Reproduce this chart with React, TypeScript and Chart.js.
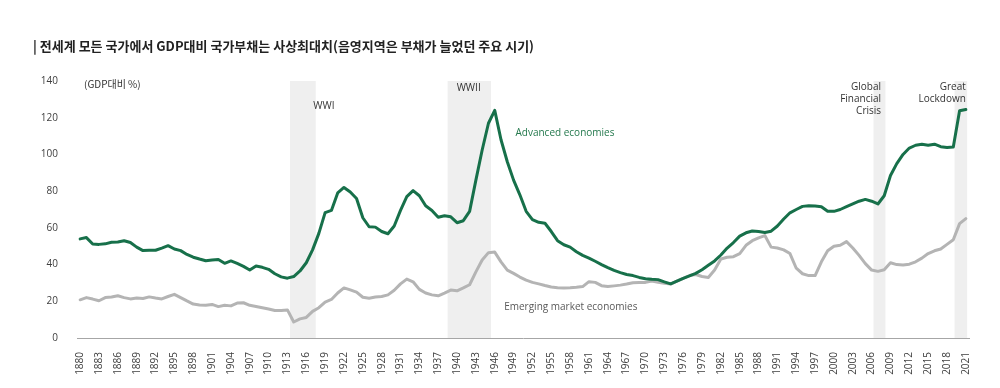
import { useEffect, useRef } from "react";
import { Chart, registerables } from "chart.js";

Chart.register(...registerables);

const START_YEAR = 1880;
const END_YEAR = 2021;
const years: string[] = [];
for (let y = START_YEAR; y <= END_YEAR; y++) years.push(String(y));

// 1880 ... 2021
const advanced = [
  54, 54.7, 51.2, 51, 51.3, 52.2, 52.3, 53, 52, 49.5,
  47.6, 47.8, 47.8, 49, 50.3, 48.5, 47.6, 45.5, 44, 43,
  42.1, 42.5, 42.8, 40.7, 42, 40.6, 39, 37, 39.2, 38.5,
  37.4, 35, 33.3, 32.6, 33.5, 36.5, 41, 48, 57, 68.3,
  69.5, 79, 82, 79.5, 76, 65.5, 60.6, 60.4, 58, 56.8,
  61, 69.5, 77, 80.3, 77.5, 72, 69.5, 65.8, 66.6, 66,
  62.8, 63.9, 69, 86, 102.4, 117, 124, 108, 96, 86,
  78, 69, 64.5, 63, 62.5, 58, 53, 50.8, 49.5, 47,
  45, 43.5, 41.8, 40, 38.3, 36.8, 35.6, 34.6, 34, 33,
  32.3, 32, 31.8, 30.6, 29.5, 31, 32.5, 33.8, 35.2, 37.2,
  39.6, 42, 45.2, 49, 52, 55.5, 57.3, 58.3, 58, 57.5,
  58.2, 61, 64.8, 68.2, 70, 71.7, 72.1, 71.9, 71.5, 69,
  69, 70, 71.5, 73, 74.5, 75.5, 74.5, 73, 77.5, 88.5,
  95, 100, 103.5, 105, 105.5, 105, 105.6, 104.2, 103.8, 104,
  123.8, 124.5,
];

const emerging = [
  20.8, 22, 21.2, 20.3, 22, 22.3, 23, 22, 21.3, 21.8,
  21.5, 22.4, 21.8, 21.3, 22.6, 23.8, 22, 20.2, 18.5, 18,
  17.8, 18.3, 17.1, 17.8, 17.5, 19, 19.2, 17.8, 17.2, 16.5,
  15.8, 15, 15, 15.3, 8.7, 10.4, 11.2, 14.5, 16.5, 19.6,
  21, 24.5, 27.3, 26.2, 25, 22.2, 21.7, 22.3, 22.6, 23.5,
  26, 29.5, 32.1, 30.6, 26.5, 24.5, 23.5, 23, 24.5, 26.1,
  25.7, 27.3, 29, 36, 42.5, 46.5, 46.8, 41.5, 37, 35.2,
  33.2, 31.5, 30.3, 29.5, 28.6, 27.8, 27.4, 27.3, 27.4, 27.6,
  28, 30.7, 30.3, 28.5, 28, 28.4, 28.8, 29.4, 30.1, 30.2,
  30.3, 31, 30.4, 29.8, 29.4, 31, 32.5, 34, 34.6, 33.5,
  33, 37, 43, 44, 44.3, 46, 50.5, 53, 54.5, 55.8,
  49.5, 49, 48, 46, 38, 35, 34, 34, 41.5, 47.5,
  50, 50.5, 52.5, 49, 45, 40.5, 37, 36.3, 37.2, 41,
  40, 39.8, 40.2, 41.5, 43.5, 46, 47.5, 48.5, 51, 53.5,
  62.3, 65,
];

const Y_MIN = 0;
const Y_MAX = 140;
const Y_STEP = 20;

const TITLE = "| 전세계 모든 국가에서 GDP대비 국가부채는 사상최대치(음영지역은 부채가 늘었던 주요 시기)";
const UNIT_LABEL = "(GDP대비 %)";
const SERIES_NAMES = ["Advanced economies", "Emerging market economies"];

// shaded periods, in years (fractional)
const bandStarts = [1913.4, 1938.5, 2006.3, 2019.2];
const bandEnds = [1917.5, 1945.4, 2008.2, 2021.2];
const bandLabels = [["WWI"], ["WWII"], ["Global", "Financial", "Crisis"], ["Great", "Lockdown"]];

const GREEN = "#17704a";
const GREY = "#b4b4b4";
const FONT = "'Open Sans', 'Noto Sans', sans-serif";
const KFONT = "'Noto Sans CJK KR', 'Noto Sans', sans-serif";

type Note = { lines: string[]; year: number; value: number; align: CanvasTextAlign; color: string };

const notes: Note[] = [
  { lines: bandLabels[0], year: 1918.8, value: 126.4, align: "center", color: "#333333" },
  { lines: bandLabels[1], year: 1941.85, value: 136.2, align: "center", color: "#333333" },
  { lines: bandLabels[2], year: 2007.5, value: 136.4, align: "right", color: "#333333" },
  { lines: bandLabels[3], year: 2021.0, value: 136.7, align: "right", color: "#333333" },
  { lines: [SERIES_NAMES[0]], year: 1949.3, value: 111.7, align: "left", color: "#23784c" },
  { lines: [SERIES_NAMES[1]], year: 1947.5, value: 16.9, align: "left", color: "#595959" },
];

const overlayPlugin = {
  id: "overlay",
  beforeDatasetsDraw(chart: any) {
    const { ctx, chartArea, scales } = chart;
    const x = scales.x;
    ctx.save();
    ctx.fillStyle = "#efefef";
    for (let i = 0; i < bandStarts.length; i++) {
      const x0 = x.getPixelForValue(bandStarts[i] - START_YEAR);
      const x1 = x.getPixelForValue(bandEnds[i] - START_YEAR);
      ctx.fillRect(x0, chartArea.top, x1 - x0, chartArea.bottom - chartArea.top);
    }
    ctx.restore();
  },
  afterDatasetsDraw(chart: any) {
    const { ctx, scales } = chart;
    const x = scales.x;
    const y = scales.y;
    ctx.save();
    ctx.textBaseline = "middle";
    ctx.font = `10px ${FONT}`;
    for (const n of notes) {
      const px = x.getPixelForValue(n.year - START_YEAR);
      const py = y.getPixelForValue(n.value);
      ctx.fillStyle = n.color;
      ctx.textAlign = n.align;
      n.lines.forEach((t, i) => ctx.fillText(t, px, py + i * 12));
    }
    // unit label
    ctx.font = `10px ${KFONT}`;
    ctx.fillStyle = "#333333";
    ctx.textAlign = "left";
    ctx.fillText(UNIT_LABEL, 84, y.getPixelForValue(138.3));
    // title
    ctx.font = `bold 13px ${KFONT}`;
    ctx.fillStyle = "#222222";
    ctx.fillText(TITLE, 33, 46);
    ctx.restore();
  },
};

export default function App() {
  const ref = useRef<HTMLCanvasElement | null>(null);

  useEffect(() => {
    if (!ref.current) return;
    const chart = new Chart(ref.current, {
      type: "line",
      data: {
        labels: years,
        datasets: [
          {
            label: SERIES_NAMES[0],
            data: advanced,
            borderColor: GREEN,
            borderWidth: 3,
            pointRadius: 0,
            tension: 0,
            borderJoinStyle: "round",
            borderCapStyle: "round",
          },
          {
            label: SERIES_NAMES[1],
            data: emerging,
            borderColor: GREY,
            borderWidth: 3,
            pointRadius: 0,
            tension: 0,
            borderJoinStyle: "round",
            borderCapStyle: "round",
          },
        ],
      },
      options: {
        animation: false,
        responsive: false,
        devicePixelRatio: 1,
        layout: { padding: { top: 81, right: 31, left: 0, bottom: 0 } },
        plugins: {
          legend: { display: false },
          tooltip: { enabled: false },
          title: { display: false },
        },
        scales: {
          x: {
            type: "category",
            offset: true,
            grid: { display: false },
            border: { display: true, color: "#a6a6a6", width: 1 },
            ticks: {
              autoSkip: false,
              minRotation: 90,
              maxRotation: 90,
              padding: 6,
              color: "#404040",
              font: { family: FONT, size: 10 },
              callback: (_v: any, idx: number) => (idx % 3 === 0 ? years[idx] : ""),
            },
            afterFit: (scale: any) => {
              scale.height = 50;
            },
          },
          y: {
            min: Y_MIN,
            max: Y_MAX,
            grid: { display: false },
            border: { display: false },
            ticks: {
              stepSize: Y_STEP,
              padding: 11,
              color: "#404040",
              font: { family: FONT, size: 10 },
            },
            afterFit: (scale: any) => {
              scale.width = 77;
            },
          },
        },
      },
      plugins: [overlayPlugin],
    });
    return () => chart.destroy();
  }, []);

  return (
    <div style={{ position: "absolute", left: 0, top: 0, width: 1000, height: 388, background: "#fff" }}>
      <canvas ref={ref} width={1000} height={388} style={{ display: "block" }} />
    </div>
  );
}
